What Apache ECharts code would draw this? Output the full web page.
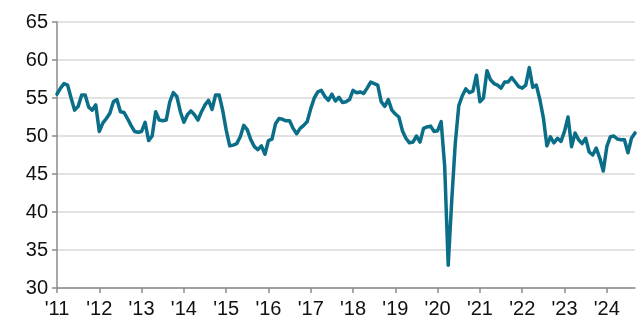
<!DOCTYPE html>
<html>
<head>
<meta charset="utf-8">
<script src="https://cdn.jsdelivr.net/npm/echarts@6/dist/echarts.min.js"></script>
<style>
  html, body { margin: 0; padding: 0; background: #fff; }
  #chart { width: 641px; height: 324px; }
</style>
</head>
<body>
<div id="chart"></div>
<script>
// Monthly index readings, January 2011 through September 2024
const startYear = 2011;
const values = [
  55.5, 56.3, 56.9, 56.7, 55.0, 53.4, 53.9, 55.4, 55.4, 53.8, 53.4, 54.1,
  50.6, 51.7, 52.3, 53.0, 54.5, 54.8, 53.2, 53.1, 52.3, 51.4, 50.6, 50.5,
  50.6, 51.8, 49.4, 50.0, 53.2, 52.1, 52.0, 52.1, 54.5, 55.7, 55.2, 53.2,
  51.8, 52.8, 53.3, 52.8, 52.1, 53.2, 54.1, 54.7, 53.5, 55.4, 55.4, 53.4,
  50.8, 48.7, 48.8, 49.0, 49.9, 51.4, 50.8, 49.5, 48.6, 48.2, 48.7, 47.6,
  49.4, 49.6, 51.6, 52.3, 52.2, 52.0, 52.0, 51.0, 50.3, 51.0, 51.4, 51.9,
  53.6, 55.0, 55.8, 56.0, 55.2, 54.7, 55.5, 54.6, 55.1, 54.4, 54.5, 54.8,
  56.0, 55.7, 55.8, 55.6, 56.3, 57.1, 56.9, 56.7, 54.5, 53.9, 54.8, 53.4,
  52.9, 52.5, 50.7, 49.7, 49.1, 49.2, 50.0, 49.2, 51.0, 51.2, 51.3, 50.6,
  50.7, 51.9, 46.0, 33.0, 41.5, 49.0, 54.0, 55.3, 56.2, 55.7, 55.9, 58.0,
  54.5, 55.0, 58.6, 57.4, 56.9, 56.7, 56.3, 57.1, 57.1, 57.7, 57.1, 56.5,
  56.3, 56.7, 59.0, 56.4, 56.7, 54.8, 52.4, 48.7, 49.9, 49.1, 49.7, 49.3,
  50.6, 52.5, 48.6, 50.4, 49.5, 49.0, 49.7, 47.9, 47.5, 48.4, 47.1, 45.4,
  48.6, 49.9, 50.0, 49.6, 49.5, 49.5, 47.8, 49.7, 50.4
];

// Month categories, e.g. "2011-01"
const months = values.map((_, i) => {
  const y = startYear + Math.floor(i / 12);
  const m = (i % 12) + 1;
  return y + '-' + (m < 10 ? '0' + m : m);
});

// Year tick labels shown at each January
const yearLabels = ["'11", "'12", "'13", "'14", "'15", "'16", "'17", "'18", "'19", "'20", "'21", "'22", "'23", "'24"];

// Value axis range
const yMin = 30, yMax = 65, yStep = 5;

const isJanuary = (idx) => idx % 12 === 0;

const chart = echarts.init(document.getElementById('chart'), null, { renderer: 'canvas' });
chart.setOption({
  animation: false,
  backgroundColor: '#ffffff',
  grid: { left: 57, right: 6, top: 22, bottom: 36, containLabel: false },
  xAxis: {
    type: 'category',
    data: months,
    boundaryGap: false,
    axisLine: { show: true, lineStyle: { color: '#8c8c8c', width: 1.5 } },
    axisTick: { show: true, inside: false, length: 5, interval: (idx) => isJanuary(idx),
                lineStyle: { color: '#8c8c8c', width: 1.5 } },
    axisLabel: {
      interval: (idx) => isJanuary(idx),
      formatter: (val, idx) => yearLabels[Math.floor(idx / 12)],
      color: '#111111',
      fontFamily: 'Liberation Sans, Arial, sans-serif',
      fontSize: 20,
      margin: 11
    },
    splitLine: { show: false }
  },
  yAxis: {
    type: 'value',
    min: yMin,
    max: yMax,
    interval: yStep,
    axisLine: { show: true, lineStyle: { color: '#8c8c8c', width: 1.5 } },
    axisTick: { show: true, length: 5, lineStyle: { color: '#8c8c8c', width: 1.5 } },
    axisLabel: {
      color: '#111111',
      fontFamily: 'Liberation Sans, Arial, sans-serif',
      fontSize: 20,
      margin: 9
    },
    splitLine: { show: true, lineStyle: { color: '#d9d9d9', width: 1.5 } }
  },
  series: [{
    type: 'line',
    data: values,
    showSymbol: false,
    symbol: 'none',
    lineStyle: { color: '#0b6e88', width: 3.5, join: 'round', cap: 'round' },
    z: 3
  }]
});
</script>
</body>
</html>
